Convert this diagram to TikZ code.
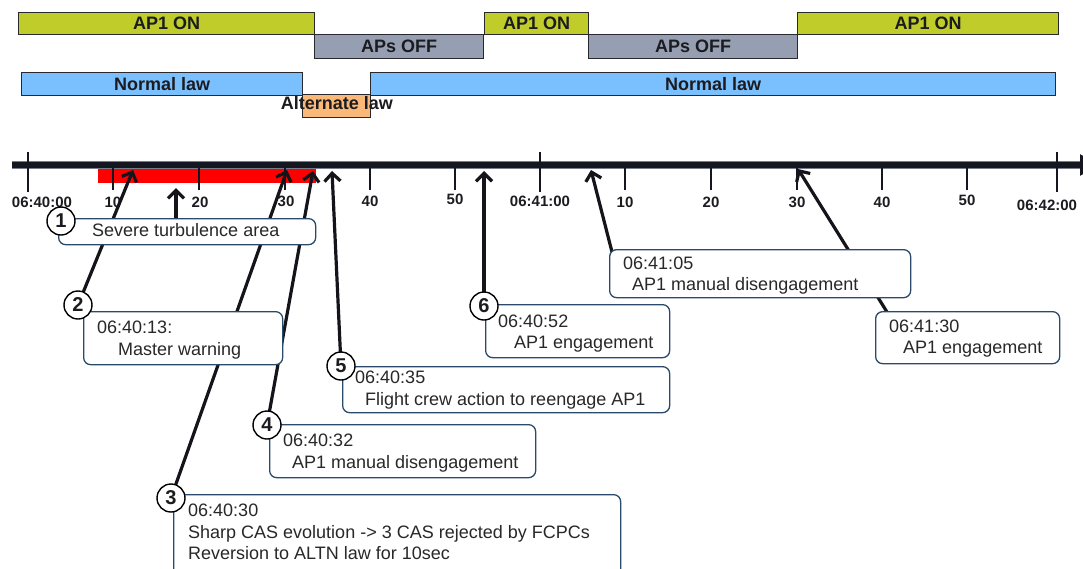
\documentclass[tikz,border=0pt]{standalone}
\usepackage{fontspec}
\setmainfont{Liberation Sans}
\usetikzlibrary{arrows.meta}
\definecolor{aponc}{RGB}{191,204,42}
\definecolor{apoffc}{RGB}{150,158,178}
\definecolor{normc}{RGB}{122,192,255}
\definecolor{altc}{RGB}{250,185,120}
\definecolor{barline}{RGB}{40,40,46}
\definecolor{boxedge}{RGB}{42,74,108}
\definecolor{txtdark}{RGB}{28,28,32}
\definecolor{txtgray}{RGB}{40,40,40}
\definecolor{axisc}{RGB}{20,22,32}
\definecolor{axisout}{RGB}{120,124,136}
\definecolor{ptrc}{RGB}{20,20,26}
\begin{document}
\begin{tikzpicture}[x=1pt,y=-1pt,
  bar/.style={draw=barline,line width=1.2pt,inner sep=0pt,anchor=north west,font=\fontsize{18}{20}\selectfont\bfseries,text=txtdark},
  evbox/.style={draw=boxedge,line width=1.3pt,fill=white,rounded corners=7pt,anchor=north west,inner sep=0pt},
  evtext/.style={anchor=base west,inner sep=0pt,font=\fontsize{18}{20}\selectfont,text=txtgray},
  numc/.style={circle,draw=black,line width=1.4pt,fill=white,minimum size=28pt,inner sep=0pt,font=\fontsize{20}{20}\selectfont\bfseries,text=txtdark},
  ptr/.style={line width=3.2pt,draw=ptrc,-{Straight Barb[length=8pt,width=16pt]}},
  ticklbl/.style={font=\fontsize{15}{16}\selectfont\bfseries,text=txtdark,inner sep=0pt},
  majortick/.style={line width=1.6pt,draw=axisc},
  minortick/.style={line width=2pt,draw=axisc},
]
\useasboundingbox (0,0) rectangle (1083,568);

% ---- autopilot bars ----
\node[bar,fill=apoffc,minimum width=169pt,minimum height=24pt] (off1) at (314,34) {APs OFF};
\node[bar,fill=apoffc,minimum width=209pt,minimum height=24pt] (off2) at (588,34) {APs OFF};
\node[bar,fill=aponc,minimum width=296pt,minimum height=22pt] (on1) at (18,12) {AP1 ON};
\node[bar,fill=aponc,minimum width=104pt,minimum height=22pt] (on2) at (484,12) {AP1 ON};
\node[bar,fill=aponc,minimum width=261pt,minimum height=22pt] (on3) at (797,12) {AP1 ON};

% ---- law bars ----
\node[bar,fill=normc,minimum width=281pt,minimum height=23pt] (nl1) at (21,72) {Normal law};
\node[bar,fill=altc,minimum width=68pt,minimum height=23pt] (alt) at (302,94) {};
\node[bar,fill=normc,minimum width=685pt,minimum height=23pt] (nl2) at (370,72) {Normal law};
\node[font=\fontsize{18}{20}\selectfont\bfseries,text=txtdark,inner sep=0pt] (altlbl) at (337,103) {Alternate law};

% ---- time axis ----
\coordinate (axL) at (12,165);
\coordinate (axR) at (1100,165);
\node[fill=red,inner sep=0pt,minimum width=218pt,minimum height=15pt,anchor=north west] (turb) at (98,168) {};
\draw[line width=7.5pt,draw=axisout] (axL) -- (1080,165);
\draw[line width=5.5pt,draw=axisc,-{Triangle[length=20pt,width=20pt]}] (axL) -- (axR);

\foreach \x in {28,540,1057} \draw[majortick] (\x,152) -- (\x,192);
\foreach \x in {113,199,285,370,455,625,711,797,882,967} \draw[minortick] (\x,166) -- (\x,190);

\node[ticklbl] (l0) at (42,202) {06:40:00};
\node[ticklbl] (l10) at (113,202) {10};
\node[ticklbl] (l20) at (200,202) {20};
\node[ticklbl] (l30) at (286,201) {30};
\node[ticklbl] (l40) at (370,201) {40};
\node[ticklbl] (l50) at (455,199) {50};
\node[ticklbl] (l60) at (540,201) {06:41:00};
\node[ticklbl] (l70) at (625,202) {10};
\node[ticklbl] (l80) at (711,202) {20};
\node[ticklbl] (l90) at (797,202) {30};
\node[ticklbl] (l100) at (882,202) {40};
\node[ticklbl] (l110) at (967,200) {50};
\node[ticklbl] (l120) at (1047,205) {06:42:00};

% ---- pointer tips and starts ----
\coordinate (p1) at (176,188);
\coordinate (p2) at (133,170);
\coordinate (p3) at (287,170);
\coordinate (p4) at (313,171);
\coordinate (p5) at (332,171);
\coordinate (p6) at (484,171);
\coordinate (p7) at (591,170);
\coordinate (p8) at (798,169);
\coordinate (s7) at (612,252);
\coordinate (s8) at (887,312);

% circle positions
\coordinate (c1) at (61,221);
\coordinate (c2) at (78,305);
\coordinate (c3) at (171,498);
\coordinate (c4) at (267,425);
\coordinate (c5) at (341,366);
\coordinate (c6) at (484,306);

% ---- pointers ----
\draw[ptr] (176,230) -- (p1);
\draw[ptr] (c2) -- (p2);
\draw[ptr] (c3) -- (p3);
\draw[ptr] (c4) -- (p4);
\draw[ptr] (c5) -- (p5);
\draw[ptr] (c6) -- (p6);
\draw[ptr] (s7) -- (p7);
\draw[ptr] (s8) -- (p8);

% ---- event boxes ----
\node[evbox,minimum width=257pt,minimum height=26pt] (b1) at (58,218) {};
\node[evbox,minimum width=199pt,minimum height=53pt] (b2) at (83,311) {};
\node[evbox,minimum width=447pt,minimum height=86pt] (b3) at (173,494) {};
\node[evbox,minimum width=266pt,minimum height=53pt] (b4) at (269,424) {};
\node[evbox,minimum width=327pt,minimum height=46pt] (b5) at (342,366) {};
\node[evbox,minimum width=184pt,minimum height=53pt] (b6) at (485,304) {};
\node[evbox,minimum width=301pt,minimum height=48pt] (b7) at (609,249) {};
\node[evbox,minimum width=184pt,minimum height=52pt] (b8) at (875,311) {};

\node[evtext] (t1) at (92,236) {Severe turbulence area};
\node[evtext] (t2a) at (97,333) {06:40:13:};
\node[evtext] (t2b) at (118,355) {Master warning};
\node[evtext] (t3a) at (188,516) {06:40:30};
\node[evtext] (t3b) at (188,538) {Sharp CAS evolution -> 3 CAS rejected by FCPCs};
\node[evtext] (t3c) at (188,559) {Reversion to ALTN law for 10sec};
\node[evtext] (t4a) at (283,446) {06:40:32};
\node[evtext] (t4b) at (292,468) {AP1 manual disengagement};
\node[evtext] (t5a) at (355,383) {06:40:35};
\node[evtext] (t5b) at (365,405) {Flight crew action to reengage AP1};
\node[evtext] (t6a) at (498,327) {06:40:52};
\node[evtext] (t6b) at (514,348) {AP1 engagement};
\node[evtext] (t7a) at (623,269) {06:41:05};
\node[evtext] (t7b) at (632,290) {AP1 manual disengagement};
\node[evtext] (t8a) at (889,332) {06:41:30};
\node[evtext] (t8b) at (903,353) {AP1 engagement};

% ---- number circles ----
\node[numc] (n1) at (c1) {1};
\node[numc] (n2) at (c2) {2};
\node[numc] (n3) at (c3) {3};
\node[numc] (n4) at (c4) {4};
\node[numc] (n5) at (c5) {5};
\node[numc] (n6) at (c6) {6};
\end{tikzpicture}
\end{document}
